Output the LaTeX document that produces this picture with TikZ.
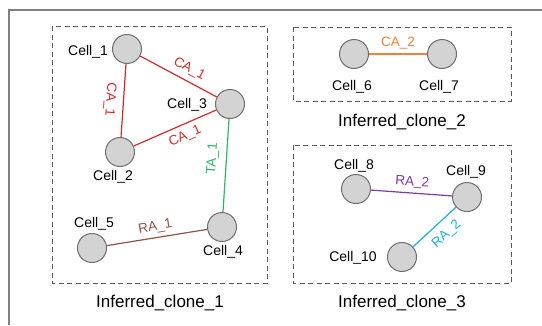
\documentclass[tikz,border=0pt]{standalone}
\usepackage{fontspec}
\setmainfont{Liberation Sans}
\definecolor{cellfill}{HTML}{D3D3D3}
\definecolor{celldraw}{HTML}{6E6E6E}
\definecolor{boxgray}{HTML}{5A5A5A}
\definecolor{cred}{HTML}{D42A2A}
\definecolor{cgreen}{HTML}{2DB866}
\definecolor{cbrown}{HTML}{8E5444}
\definecolor{corange}{HTML}{F07F3A}
\definecolor{cpurple}{HTML}{7A3AA8}
\definecolor{ccyan}{HTML}{1AAFE6}
\tikzset{
  cell/.style={circle, draw=celldraw, fill=cellfill, line width=1pt, minimum size=29pt, inner sep=0pt},
  clabel/.style={font=\fontsize{14}{16}\selectfont, inner sep=0pt},
  elabel/.style={font=\fontsize{13.5}{15}\selectfont, inner sep=1pt},
  clonebox/.style={draw=boxgray, line width=1pt, dash pattern=on 5pt off 3.5pt},
  ctitle/.style={font=\fontsize{17}{19}\selectfont, inner sep=0pt},
  edge/.style={line width=1.2pt}
}
\begin{document}
\begin{tikzpicture}[x=1pt,y=-1pt]
\useasboundingbox (0,0) rectangle (542,325);
\draw[gray, line width=1.2pt] (9,325) -- (9,10) -- (542,10);
% clone boxes
\draw[clonebox] (52,26) rectangle (267,283);
\draw[clonebox] (293,27) rectangle (511,101);
\draw[clonebox] (293,145) rectangle (511,283);
\node[ctitle] (t1) at (160,303) {Inferred\_clone\_1};
\node[ctitle] (t2) at (402,122) {Inferred\_clone\_2};
\node[ctitle] (t3) at (402,303) {Inferred\_clone\_3};
% cells
\node[cell] (c1) at (127,49) {};
\node[cell] (c2) at (120,152) {};
\node[cell] (c3) at (230,104) {};
\node[cell] (c4) at (222,227) {};
\node[cell] (c5) at (92,248) {};
\node[cell] (c6) at (354,54) {};
\node[cell] (c7) at (442,54) {};
\node[cell] (c8) at (356,189) {};
\node[cell] (c9) at (467,197) {};
\node[cell] (c10) at (402,257) {};
% cell labels
\node[clabel] (l1) at (88,52) {Cell\_1};
\node[clabel] (l2) at (113,177) {Cell\_2};
\node[clabel] (l3) at (187,105) {Cell\_3};
\node[clabel] (l4) at (223,252) {Cell\_4};
\node[clabel] (l5) at (94,224) {Cell\_5};
\node[clabel] (l6) at (352,87) {Cell\_6};
\node[clabel] (l7) at (439,87) {Cell\_7};
\node[clabel] (l8) at (354,166) {Cell\_8};
\node[clabel] (l9) at (466,172) {Cell\_9};
\node[clabel] (l10) at (353,258) {Cell\_10};
% edges
\draw[edge, cred] (c1) -- node[elabel, midway, above=4pt, sloped, xshift=6pt] {CA\_1} (c3);
\draw[edge, cred] (c1) -- node[elabel, midway, below=6pt, sloped, allow upside down] {CA\_1} (c2);
\draw[edge, cred] (c2) -- node[elabel, midway, below=4pt, sloped, xshift=6pt] {CA\_1} (c3);
\draw[edge, cgreen] (c4) -- node[elabel, midway, above=6pt, sloped, xshift=6pt] {TA\_1} (c3);
\draw[edge, cbrown] (c5) -- node[elabel, midway, above=3pt, sloped] {RA\_1} (c4);
\draw[edge, corange] (c6) -- node[elabel, midway, above=3pt] {CA\_2} (c7);
\draw[edge, cpurple] (c8) -- node[elabel, midway, above=3pt, sloped] {RA\_2} (c9);
\draw[edge, ccyan] (c10) -- node[elabel, midway, below=6pt, sloped, xshift=4pt] {RA\_2} (c9);
\end{tikzpicture}
\end{document}
